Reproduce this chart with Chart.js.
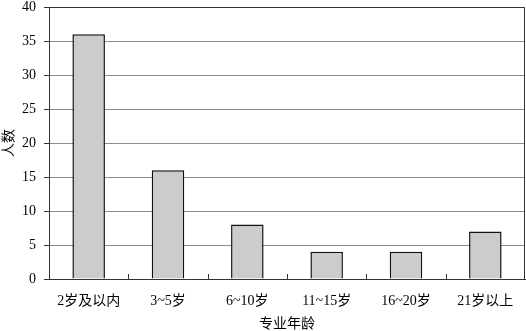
<!DOCTYPE html>
<html>
<head>
<meta charset="utf-8">
<script src="https://cdn.jsdelivr.net/npm/chart.js@4"></script>
<style>
  html, body { margin: 0; padding: 0; background: #fff; }
  #wrap { width: 526px; height: 331px; }
</style>
</head>
<body>
<div id="wrap"><canvas id="myChart" width="526" height="331"></canvas></div>
<script>
// Daten aus der Grafik
const categories = ['2岁及以内', '3~5岁', '6~10岁', '11~15岁', '16~20岁', '21岁以上'];
const counts = [36, 16, 8, 4, 4, 7];
const yTitle = '人数';
const xTitle = '专业年龄';

const FONT = '"Liberation Serif", "Noto Sans CJK SC", serif';

// Rahmen oben/rechts und kleine Striche zwischen den Kategorien
const framePlugin = {
  id: 'frame',
  afterDatasetsDraw(chart) {
    const { ctx, chartArea: a, scales } = chart;
    ctx.save();
    ctx.strokeStyle = '#333';
    ctx.lineWidth = 1;
    ctx.beginPath();
    ctx.moveTo(a.left, a.top + 0.5);
    ctx.lineTo(a.right - 0.5, a.top + 0.5);
    ctx.lineTo(a.right - 0.5, a.bottom);
    ctx.stroke();
    const x = scales.x;
    ctx.beginPath();
    for (let i = 1; i < categories.length; i++) {
      const px = Math.round((x.getPixelForValue(i - 1) + x.getPixelForValue(i)) / 2) + 0.5;
      ctx.moveTo(px, a.bottom);
      ctx.lineTo(px, a.bottom - 5);
    }
    ctx.stroke();
    ctx.restore();
  }
};

const ctx = document.getElementById('myChart').getContext('2d');
const myChart = new Chart(ctx, {
  type: 'bar',
  data: {
    labels: categories,
    datasets: [{
      data: counts,
      backgroundColor: '#cccccc',
      borderColor: '#111',
      borderWidth: 1.5,
      barPercentage: 0.41,
      categoryPercentage: 1
    }]
  },
  options: {
    responsive: false,
    animation: false,
    layout: { autoPadding: false, padding: { top: 7, right: 1, left: 2, bottom: 0 } },
    plugins: {
      legend: { display: false },
      tooltip: { enabled: false }
    },
    scales: {
      y: {
        min: 0,
        max: 40,
        afterFit: s => { s.width = 47; s.paddingTop = 0; s.paddingBottom = 0; },
        ticks: {
          stepSize: 5,
          color: '#000',
          padding: 8,
          font: { family: FONT, size: 14 }
        },
        grid: { color: '#8c8c8c', tickLength: 5, tickColor: '#333' },
        border: { color: '#333' },
        title: {
          display: true,
          text: yTitle,
          color: '#000',
          padding: 0,
          font: { family: FONT, size: 14, lineHeight: 1.0 }
        }
      },
      x: {
        afterFit: s => { s.height = 52; s.paddingLeft = 0; s.paddingRight = 0; },
        ticks: {
          color: '#000',
          padding: 6,
          font: { family: FONT, size: 14 }
        },
        grid: { display: false },
        border: { color: '#333' },
        title: {
          display: true,
          text: xTitle,
          color: '#000',
          padding: 0,
          font: { family: FONT, size: 14, lineHeight: 1.0 }
        }
      }
    }
  },
  plugins: [framePlugin]
});
</script>
</body>
</html>
